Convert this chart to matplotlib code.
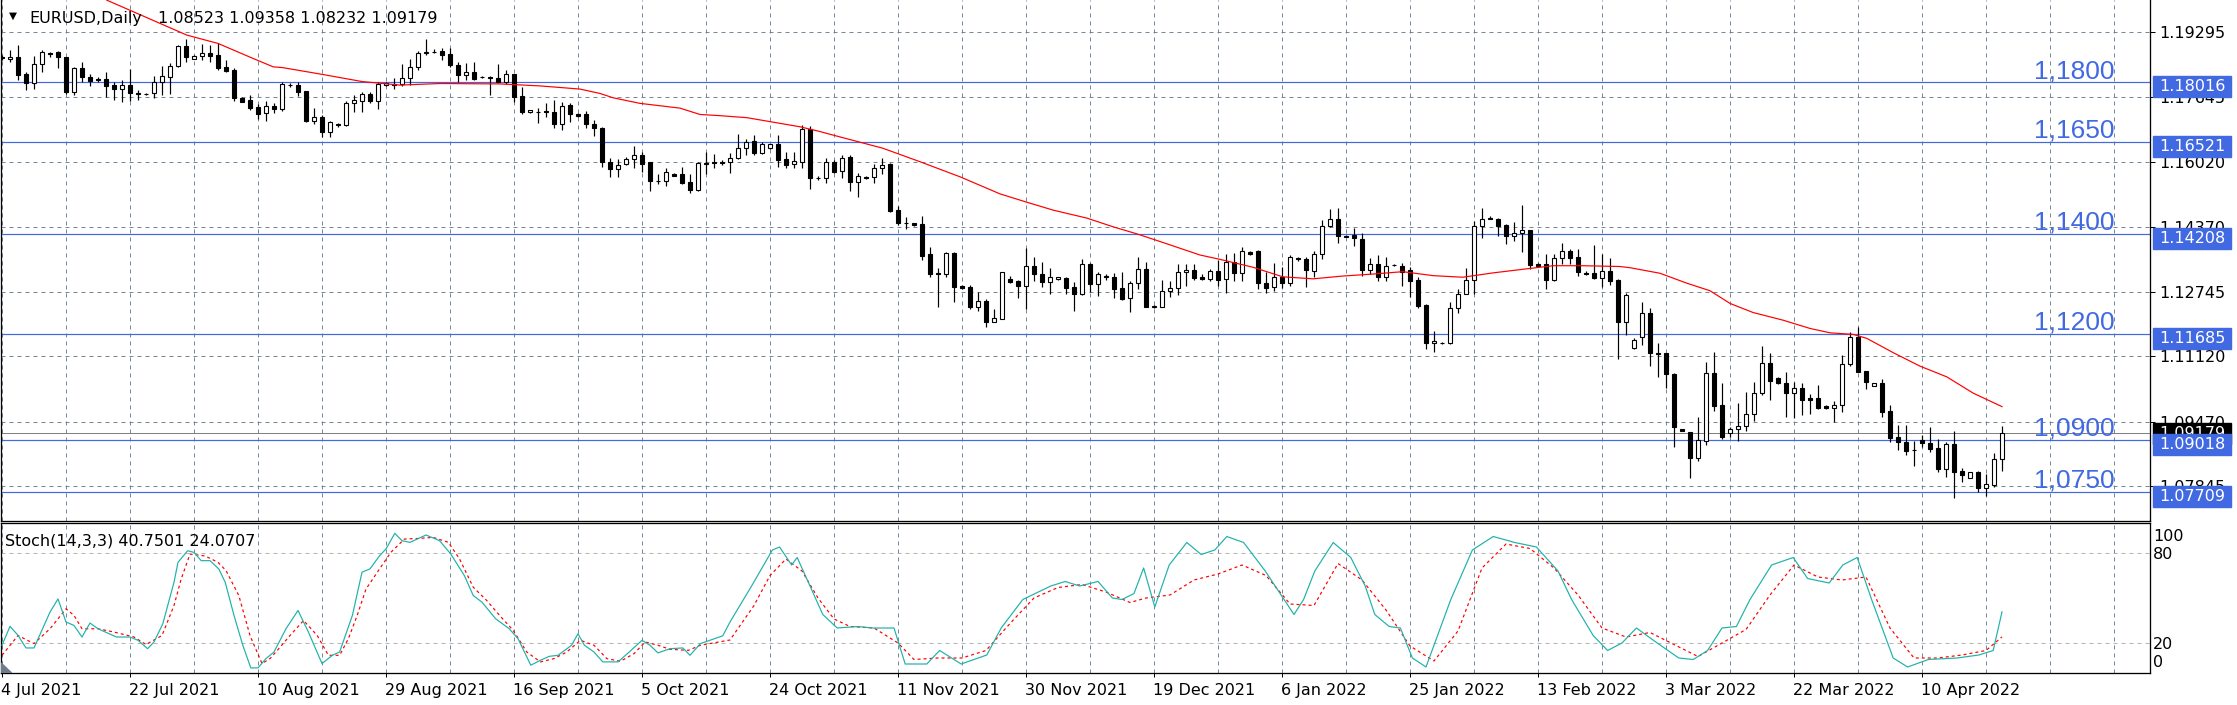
import matplotlib.pyplot as plt
from matplotlib.patches import Rectangle, Polygon
from matplotlib.transforms import blended_transform_factory

W, H, DPI = 2237, 705, 100

# ---- daily candles (bar 0 = 4 Jul 2021, Sunday bars included) ----
opens = [1.1865, 1.1860, 1.1865, 1.1822, 1.1800, 1.1848, 1.1876, 1.1878, 1.1865, 1.1778,
         1.1837, 1.1815, 1.1811, 1.1810, 1.1795, 1.1785, 1.1795, 1.1774, 1.1773, 1.1774,
         1.1802, 1.1816, 1.1843, 1.1894, 1.1862, 1.1869, 1.1875, 1.1871, 1.1840, 1.1833,
         1.1762, 1.1758, 1.1740, 1.1724, 1.1742, 1.1736, 1.1795, 1.1795, 1.1780, 1.1705,
         1.1715, 1.1678, 1.1695, 1.1695, 1.1751, 1.1756, 1.1773, 1.1756, 1.1795, 1.1798,
         1.1798, 1.1812, 1.1841, 1.1875, 1.1879, 1.1882, 1.1873, 1.1846, 1.1821, 1.1827,
         1.1815, 1.1815, 1.1812, 1.1802, 1.1823, 1.1768, 1.1726, 1.1728, 1.1731, 1.1726,
         1.1696, 1.1745, 1.1722, 1.1721, 1.1697, 1.1688, 1.1602, 1.1583, 1.1595, 1.1608,
         1.1619, 1.1601, 1.1553, 1.1553, 1.1571, 1.1571, 1.1550, 1.1531, 1.1598, 1.1602,
         1.1601, 1.1601, 1.1611, 1.1636, 1.1654, 1.1625, 1.1636, 1.1646, 1.1609, 1.1595,
         1.1602, 1.1684, 1.1562, 1.1562, 1.1602, 1.1579, 1.1613, 1.1552, 1.1564, 1.1564,
         1.1585, 1.1596, 1.1480, 1.1448, 1.1447, 1.1445, 1.1370, 1.1321, 1.1319, 1.1371,
         1.1289, 1.1286, 1.1237, 1.1251, 1.1199, 1.1206, 1.1306, 1.1302, 1.1290, 1.1339,
         1.1319, 1.1300, 1.1306, 1.1310, 1.1286, 1.1268, 1.1344, 1.1293, 1.1315, 1.1312,
         1.1283, 1.1258, 1.1296, 1.1331, 1.1237, 1.1237, 1.1277, 1.1283, 1.1323, 1.1329,
         1.1311, 1.1306, 1.1327, 1.1306, 1.1349, 1.1322, 1.1375, 1.1378, 1.1296, 1.1286,
         1.1311, 1.1296, 1.1359, 1.1356, 1.1327, 1.1369, 1.1441, 1.1457, 1.1416, 1.1417,
         1.1407, 1.1328, 1.1344, 1.1312, 1.1342, 1.1340, 1.1328, 1.1304, 1.1241, 1.1145,
         1.1145, 1.1145, 1.1233, 1.1270, 1.1304, 1.1440, 1.1461, 1.1458, 1.1443, 1.1416,
         1.1422, 1.1430, 1.1344, 1.1344, 1.1304, 1.1359, 1.1377, 1.1361, 1.1321, 1.1321,
         1.1308, 1.1327, 1.1304, 1.1197, 1.1133, 1.1160, 1.1220, 1.1119, 1.1119, 1.1066,
         1.0928, 1.0920, 1.0855, 1.0899, 1.1069, 1.0989, 1.0919, 1.0928, 1.0936, 1.0966,
         1.1019, 1.1094, 1.1058, 1.1044, 1.1020, 1.1031, 1.1006, 1.1006, 1.0987, 1.0981,
         1.0988, 1.1092, 1.1161, 1.1075, 1.1038, 1.1044, 1.0974, 1.0908, 1.0897, 1.0876,
         1.0901, 1.0894, 1.0880, 1.0827, 1.0890, 1.0824, 1.0805, 1.0820, 1.0781, 1.0788,
         1.08523]
highs = [1.1871, 1.1883, 1.1896, 1.1829, 1.1869, 1.1883, 1.1878, 1.1881, 1.1867, 1.1840,
         1.1853, 1.1822, 1.1815, 1.1827, 1.1804, 1.1808, 1.1835, 1.1783, 1.1775, 1.1818,
         1.1843, 1.1851, 1.1896, 1.1911, 1.1871, 1.1899, 1.1896, 1.1900, 1.1858, 1.1837,
         1.1765, 1.1770, 1.1747, 1.1755, 1.1749, 1.1804, 1.1800, 1.1802, 1.1781, 1.1738,
         1.1720, 1.1705, 1.1700, 1.1755, 1.1770, 1.1778, 1.1778, 1.1802, 1.1802, 1.1812,
         1.1848, 1.1860, 1.1881, 1.1910, 1.1885, 1.1888, 1.1888, 1.1854, 1.1850, 1.1854,
         1.1817, 1.1817, 1.1848, 1.1833, 1.1824, 1.1790, 1.1733, 1.1737, 1.1749, 1.1758,
         1.1753, 1.1749, 1.1725, 1.1730, 1.1707, 1.1689, 1.1611, 1.1609, 1.1614, 1.1642,
         1.1627, 1.1602, 1.1570, 1.1585, 1.1574, 1.1589, 1.1571, 1.1602, 1.1626, 1.1621,
         1.1606, 1.1623, 1.1672, 1.1659, 1.1669, 1.1652, 1.1647, 1.1669, 1.1626, 1.1626,
         1.1695, 1.1692, 1.1566, 1.1611, 1.1606, 1.1619, 1.1619, 1.1573, 1.1566, 1.1595,
         1.1611, 1.1599, 1.1490, 1.1462, 1.1448, 1.1465, 1.1388, 1.1334, 1.1375, 1.1375,
         1.1291, 1.1291, 1.1275, 1.1255, 1.1230, 1.1325, 1.1314, 1.1303, 1.1385, 1.1363,
         1.1349, 1.1335, 1.1312, 1.1312, 1.1298, 1.1356, 1.1346, 1.1323, 1.1319, 1.1322,
         1.1323, 1.1302, 1.1363, 1.1349, 1.1241, 1.1304, 1.1302, 1.1344, 1.1344, 1.1344,
         1.1319, 1.1331, 1.1354, 1.1370, 1.1371, 1.1386, 1.1378, 1.1380, 1.1325, 1.1346,
         1.1336, 1.1367, 1.1363, 1.1361, 1.1377, 1.1455, 1.1483, 1.1485, 1.1417, 1.1434,
         1.1422, 1.1359, 1.1367, 1.1361, 1.1344, 1.1346, 1.1337, 1.1312, 1.1243, 1.1176,
         1.1148, 1.1248, 1.1281, 1.1334, 1.1453, 1.1485, 1.1466, 1.1461, 1.1445, 1.1449,
         1.1493, 1.1431, 1.1346, 1.1370, 1.1370, 1.1396, 1.1381, 1.1381, 1.1327, 1.1392,
         1.1369, 1.1360, 1.1306, 1.1272, 1.1157, 1.1248, 1.1233, 1.1145, 1.1120, 1.1069,
         1.0929, 1.0921, 1.0960, 1.1097, 1.1122, 1.1044, 1.0934, 1.0995, 1.1021, 1.1046,
         1.1138, 1.1119, 1.1060, 1.1072, 1.1046, 1.1044, 1.1017, 1.1040, 1.0988, 1.0999,
         1.1115, 1.1172, 1.1186, 1.1076, 1.1044, 1.1054, 1.0989, 1.0939, 1.0939, 1.0899,
         1.0914, 1.0933, 1.0903, 1.0897, 1.0924, 1.0830, 1.0820, 1.0823, 1.0815, 1.0867,
         1.09358]
lows = [1.1858, 1.1853, 1.1808, 1.1783, 1.1785, 1.1827, 1.1867, 1.1837, 1.1773, 1.1770,
        1.1802, 1.1794, 1.1804, 1.1764, 1.1758, 1.1753, 1.1755, 1.1758, 1.1770, 1.1763,
        1.1770, 1.1773, 1.1841, 1.1854, 1.1861, 1.1858, 1.1853, 1.1833, 1.1829, 1.1755,
        1.1752, 1.1732, 1.1710, 1.1705, 1.1724, 1.1731, 1.1790, 1.1768, 1.1703, 1.1697,
        1.1665, 1.1665, 1.1690, 1.1693, 1.1727, 1.1727, 1.1751, 1.1736, 1.1793, 1.1784,
        1.1794, 1.1795, 1.1833, 1.1871, 1.1875, 1.1858, 1.1841, 1.1804, 1.1808, 1.1808,
        1.1813, 1.1770, 1.1801, 1.1797, 1.1752, 1.1722, 1.1725, 1.1700, 1.1715, 1.1686,
        1.1682, 1.1701, 1.1715, 1.1686, 1.1668, 1.1589, 1.1563, 1.1563, 1.1594, 1.1587,
        1.1577, 1.1528, 1.1547, 1.1541, 1.1566, 1.1547, 1.1524, 1.1529, 1.1571, 1.1585,
        1.1594, 1.1573, 1.1609, 1.1619, 1.1619, 1.1622, 1.1635, 1.1589, 1.1585, 1.1585,
        1.1586, 1.1533, 1.1556, 1.1548, 1.1573, 1.1562, 1.1529, 1.1514, 1.1558, 1.1549,
        1.1570, 1.1475, 1.1443, 1.1433, 1.1440, 1.1354, 1.1312, 1.1237, 1.1312, 1.1249,
        1.1281, 1.1230, 1.1226, 1.1186, 1.1198, 1.1205, 1.1297, 1.1258, 1.1231, 1.1302,
        1.1287, 1.1268, 1.1304, 1.1268, 1.1227, 1.1267, 1.1275, 1.1264, 1.1304, 1.1258,
        1.1254, 1.1223, 1.1281, 1.1237, 1.1233, 1.1236, 1.1260, 1.1266, 1.1290, 1.1304,
        1.1304, 1.1302, 1.1289, 1.1272, 1.1302, 1.1302, 1.1367, 1.1281, 1.1272, 1.1277,
        1.1283, 1.1289, 1.1353, 1.1286, 1.1312, 1.1356, 1.1437, 1.1398, 1.1412, 1.1390,
        1.1315, 1.1318, 1.1302, 1.1302, 1.1339, 1.1290, 1.1261, 1.1234, 1.1130, 1.1122,
        1.1142, 1.1143, 1.1220, 1.1268, 1.1269, 1.1411, 1.1457, 1.1415, 1.1395, 1.1403,
        1.1375, 1.1331, 1.1338, 1.1281, 1.1302, 1.1344, 1.1344, 1.1315, 1.1317, 1.1307,
        1.1287, 1.1292, 1.1104, 1.1165, 1.1130, 1.1140, 1.1088, 1.1059, 1.1033, 1.0884,
        1.0923, 1.0806, 1.0849, 1.0888, 1.0974, 1.0903, 1.0908, 1.0899, 1.0924, 1.0949,
        1.1014, 1.1002, 1.1042, 1.0958, 1.0957, 1.0964, 1.0966, 1.0979, 1.0980, 1.0946,
        1.0971, 1.1088, 1.1073, 1.1029, 1.1037, 1.0960, 1.0897, 1.0876, 1.0863, 1.0836,
        1.0884, 1.0871, 1.0821, 1.0809, 1.0756, 1.0796, 1.0804, 1.0769, 1.0760, 1.0783,
        1.08232]
closes = [1.1863, 1.1865, 1.1821, 1.1800, 1.1848, 1.1878, 1.1874, 1.1865, 1.1778, 1.1837,
          1.1815, 1.1806, 1.1808, 1.1794, 1.1785, 1.1795, 1.1774, 1.1773, 1.1773, 1.1802,
          1.1818, 1.1844, 1.1894, 1.1867, 1.1869, 1.1875, 1.1869, 1.1839, 1.1831, 1.1762,
          1.1753, 1.1738, 1.1722, 1.1742, 1.1736, 1.1797, 1.1795, 1.1778, 1.1705, 1.1714,
          1.1678, 1.1701, 1.1696, 1.1751, 1.1758, 1.1773, 1.1756, 1.1798, 1.1800, 1.1796,
          1.1812, 1.1841, 1.1875, 1.1879, 1.1878, 1.1871, 1.1846, 1.1821, 1.1827, 1.1810,
          1.1815, 1.1813, 1.1802, 1.1823, 1.1766, 1.1726, 1.1732, 1.1728, 1.1726, 1.1696,
          1.1743, 1.1721, 1.1717, 1.1696, 1.1686, 1.1601, 1.1583, 1.1594, 1.1608, 1.1619,
          1.1596, 1.1553, 1.1554, 1.1575, 1.1567, 1.1549, 1.1531, 1.1598, 1.1597, 1.1598,
          1.1600, 1.1611, 1.1636, 1.1652, 1.1625, 1.1646, 1.1646, 1.1606, 1.1594, 1.1604,
          1.1685, 1.1562, 1.1561, 1.1602, 1.1577, 1.1612, 1.1552, 1.1567, 1.1560, 1.1585,
          1.1594, 1.1478, 1.1448, 1.1447, 1.1443, 1.1365, 1.1319, 1.1319, 1.1371, 1.1287,
          1.1285, 1.1237, 1.1251, 1.1199, 1.1208, 1.1323, 1.1300, 1.1290, 1.1339, 1.1319,
          1.1300, 1.1311, 1.1311, 1.1285, 1.1268, 1.1344, 1.1293, 1.1318, 1.1311, 1.1281,
          1.1256, 1.1297, 1.1331, 1.1237, 1.1238, 1.1276, 1.1283, 1.1323, 1.1329, 1.1310,
          1.1307, 1.1327, 1.1304, 1.1349, 1.1322, 1.1377, 1.1370, 1.1296, 1.1285, 1.1311,
          1.1296, 1.1361, 1.1358, 1.1328, 1.1369, 1.1441, 1.1457, 1.1416, 1.1413, 1.1409,
          1.1328, 1.1344, 1.1312, 1.1340, 1.1342, 1.1325, 1.1302, 1.1239, 1.1145, 1.1150,
          1.1146, 1.1233, 1.1270, 1.1304, 1.1441, 1.1457, 1.1457, 1.1441, 1.1416, 1.1422,
          1.1430, 1.1342, 1.1340, 1.1304, 1.1359, 1.1377, 1.1360, 1.1325, 1.1318, 1.1308,
          1.1327, 1.1302, 1.1197, 1.1266, 1.1153, 1.1220, 1.1119, 1.1118, 1.1066, 1.0934,
          1.0924, 1.0855, 1.0901, 1.1069, 1.0987, 1.0909, 1.0928, 1.0936, 1.0966, 1.1019,
          1.1094, 1.1050, 1.1044, 1.1020, 1.1031, 1.1002, 1.1002, 1.0982, 1.0981, 1.0988,
          1.1092, 1.1160, 1.1073, 1.1048, 1.1044, 1.0972, 1.0907, 1.0895, 1.0874, 1.0875,
          1.0893, 1.0878, 1.0827, 1.0890, 1.0820, 1.0813, 1.0820, 1.0781, 1.0789, 1.0852,
          1.09179]

# moving average (bar position, price)
ma_bar = [13.1, 23.1, 27, 31.4, 33.9, 35.1, 39.75, 45, 49.75, 54.75, 62.25, 67.25, 72.25,
          74.75, 76.4, 79.75, 84.75, 87.25, 89.75, 93.1, 96, 99.75, 102.25, 103.9, 110.1,
          114.75, 119.75, 124.75, 128.1, 131.4, 135.6, 138.9, 141.9, 144.75, 149.75, 152.25,
          156.4, 160.1, 163.9, 167.6, 171.4, 175.1, 178.9, 182.6, 186.4, 190.1, 193.9, 197.6,
          202.25, 203.5, 207.25, 210.6, 213.5, 216, 218.9, 222.6, 226, 228.5, 231.4, 233.1,
          236.4, 239.75, 243.1, 246.4, 250]
ma_val = [1.2009, 1.1921, 1.1900, 1.1862, 1.1841, 1.1839, 1.1823, 1.1804, 1.1795, 1.1799,
          1.1798, 1.1793, 1.1785, 1.1774, 1.1763, 1.1749, 1.1737, 1.1721, 1.1718, 1.1713,
          1.1703, 1.1690, 1.1678, 1.1669, 1.1636, 1.1602, 1.1564, 1.1521, 1.1500, 1.1480,
          1.1460, 1.1438, 1.1420, 1.1401, 1.1367, 1.1356, 1.1336, 1.1312, 1.1307, 1.1314,
          1.1319, 1.1325, 1.1315, 1.1311, 1.1322, 1.1331, 1.1340, 1.1340, 1.1338, 1.1335,
          1.1321, 1.1296, 1.1277, 1.1245, 1.1222, 1.1203, 1.1182, 1.1171, 1.1167, 1.1157,
          1.1121, 1.1087, 1.1060, 1.1019, 1.0985]

# Stochastic(14,3,3): main line (%K) and signal (%D), read at bar positions
k_bar = [0, 1, 2, 3, 4, 6, 7, 8, 9, 10, 11, 12, 14.3, 16, 17, 18.2, 19, 20.1, 21.5, 22, 23.2,
         24, 24.9, 26, 27.1, 27.9, 29, 30.1, 31.1, 32, 33, 34, 35.5, 37, 38.3, 40, 41.3, 42.2,
         43.8, 45, 46, 47.2, 48, 49.1, 50, 51, 53, 54.7, 56.1, 57.8, 58.9, 60, 61.7, 63.4,
         64.5, 66.1, 67.3, 68.4, 69.5, 71.2, 72, 72.8, 74, 75.1, 77, 78.4, 80, 81, 82, 83.5,
         85.1, 86, 87.3, 90.1, 91, 93.7, 96.3, 97.2, 98.7, 99.4, 102.6, 104.4, 107, 108.8,
         111.5, 112.9, 115.6, 117.2, 119.9, 123.1, 124.9, 127.6, 131.1, 132.9, 134.7, 137,
         138.8, 140, 141.5, 142.7, 144.1, 145.9, 148.1, 149.9, 151.6, 153.1, 155.2, 157.9,
         161.5, 162.7, 164.1, 166.4, 168.6, 170.4, 171.6, 173.4, 174.8, 176.3, 178, 181.1,
         183.8, 186.4, 189.1, 191.8, 194.5, 196.2, 198.9, 200.7, 202.5, 204.3, 206.9, 209.6,
         211.4, 213.2, 215, 216.8, 218.5, 221.2, 223.9, 225.7, 228.4, 230.1, 231.9, 233.7,
         236.4, 238.2, 240.8, 244.4, 247.1, 248.9, 250]
k_val = [18.5, 31.1, 25.1, 16.7, 16.7, 40.6, 49.4, 34.0, 31.7, 24.0, 33.3, 29.5, 24.0, 24.0,
         21.8, 16.2, 20.7, 32.8, 60.5, 73.8, 81.5, 80.4, 74.9, 74.9, 69.4, 60.5, 38.4, 18.5,
         3.4, 3.4, 9.6, 14.0, 29.5, 41.7, 27.3, 6.3, 11.8, 14.0, 38.4, 67.2, 69.4, 78.2, 82.7,
         93.1, 88.2, 87.1, 92.0, 88.2, 79.3, 64.9, 51.7, 47.2, 36.2, 29.5, 22.9, 5.2, 8.5,
         11.1, 11.8, 18.5, 26.2, 18.5, 14.0, 7.4, 7.4, 14.0, 21.8, 18.5, 13.4, 16.2, 16.7,
         11.8, 19.6, 24.8, 34, 58, 82, 84, 72, 77, 39, 30, 31, 30, 30, 6, 6, 15, 6, 12, 30,
         49, 58, 61, 58, 61, 50, 49, 53, 70, 44, 72, 87, 79, 82, 91, 87, 68, 39, 49, 68, 87,
         77, 58, 39, 31, 30, 10, 4, 49, 82, 91, 87, 84, 68, 49, 25, 15, 20, 30, 20, 10, 9,
         15, 30, 31, 49, 72, 77, 63, 60, 72, 77, 49, 10, 4, 9, 10, 12, 15, 40.75]
d_bar = [0, 2, 4, 6, 8, 9, 10, 12, 14, 16.5, 18, 20, 21.5, 22.4, 23.5, 25.4, 27, 28, 29.6,
         31, 32.5, 33.5, 34.6, 36, 37.7, 39.4, 40.8, 42.2, 43.3, 44.4, 45.5, 47.2, 48.6,
         50.3, 52, 53.9, 55.8, 57.2, 58.9, 60.6, 62.2, 63.9, 65.6, 67.3, 69, 70.6, 72.3,
         74, 75.6, 77.3, 79, 80.4, 82, 83.5, 85.8, 87.3, 91, 94, 96, 98, 100, 102, 104, 106,
         109, 112, 114, 117, 120, 123, 126, 129, 132, 135, 138, 141, 143, 146, 149, 152, 155,
         158, 161, 164, 167, 170, 173, 176, 179, 182, 185, 188, 191, 194, 197, 200, 203, 206,
         209, 212, 215, 218, 221, 224, 227, 230, 233, 236, 239, 242, 245, 248, 250]
d_val = [11.8, 25.0, 19.6, 29.5, 42.8, 38.4, 29.5, 29.5, 27.3, 24.0, 19.0, 25.0, 45.0,
         62.7, 79.3, 78.0, 73.8, 68.3, 51.7, 25.0, 6.3, 9.6, 16.2, 25.0, 35.0, 25.0, 11.8,
         11.8, 22.9, 38.4, 56.0, 69.4, 80.4, 89.3, 89.7, 90.4, 87.1, 76.0, 57.2, 48.3, 38.4,
         28.4, 14.0, 7.4, 9.6, 14.0, 21.8, 18.5, 9.6, 7.8, 12.9, 20.7, 18.5, 15.8, 15.1, 18.5,
         22, 45, 65, 76, 68, 50, 36, 31, 30, 20, 9, 10, 10, 15, 33, 50, 57, 59, 54, 47, 50,
         52, 62, 66, 72, 65, 46, 45, 73, 62, 42, 18, 8, 28, 70, 86, 83, 70, 52, 30, 24, 27,
         19, 11, 20, 29, 52, 72, 64, 62, 64, 30, 10, 10, 12, 15, 24.07]

price_ticks = [1.19295, 1.17645, 1.16020, 1.14370, 1.12745, 1.11120, 1.09470, 1.07845]
level_prices = [1.18016, 1.16521, 1.14208, 1.11685, 1.09018, 1.07709]
level_names = ['1,1800', '1,1650', '1,1400', '1,1200', '1,0900', '1,0750']
bid = 1.09179
date_labels = ['4 Jul 2021', '22 Jul 2021', '10 Aug 2021', '29 Aug 2021', '16 Sep 2021',
               '5 Oct 2021', '24 Oct 2021', '11 Nov 2021', '30 Nov 2021', '19 Dec 2021',
               '6 Jan 2022', '25 Jan 2022', '13 Feb 2022', '3 Mar 2022', '22 Mar 2022',
               '10 Apr 2022']

plt.rcParams['font.family'] = ['DejaVu Sans']
GRID = '#778899'
BLUE = '#4169e1'
FS = 11.5
PX = 0.72  # one pixel in points

fig = plt.figure(figsize=(W / DPI, H / DPI), dpi=DPI)
ax = fig.add_axes([1 / W, 1 - 521 / H, 2149 / W, 521 / H])
ax2 = fig.add_axes([1 / W, 1 - 673 / H, 2149 / W, 150 / H])

n = len(closes)
idx = list(range(n))
xlim = (-0.125, 268.5)

# ---------- main panel ----------
ax.set_xlim(*xlim)
ax.set_ylim(1.06969, 1.20094)
for b in range(0, 265, 8):
    ax.axvline(b, color=GRID, lw=PX, ls=(0, (4, 4)), zorder=0)
    ax2.axvline(b, color=GRID, lw=PX, ls=(0, (4, 4)), zorder=0)
for p in price_ticks:
    ax.axhline(p, color=GRID, lw=PX, ls=(0, (4, 4)), zorder=0)

for p in level_prices:
    ax.axhline(p, color=BLUE, lw=1.2 * PX, zorder=1)
ax.axhline(bid, color='#808080', lw=PX, zorder=1)

ax.vlines(idx, lows, highs, color='black', lw=1.2 * PX, zorder=2)
bottoms = [min(o, c) for o, c in zip(opens, closes)]
heights = [max(abs(c - o), 0.00002) for o, c in zip(opens, closes)]
faces = ['white' if c > o else 'black' for o, c in zip(opens, closes)]
ax.bar(idx, heights, bottom=bottoms, width=0.55, color=faces, edgecolor='black',
       linewidth=1.1 * PX, zorder=3)

ax.plot(ma_bar, ma_val, color='red', lw=1.2 * PX, zorder=4)

for p, name in zip(level_prices, level_names):
    ax.text(264.1, p + 4 * 0.00025192, name, ha='right', va='baseline', color=BLUE,
            fontsize=19, family='Liberation Sans', zorder=4)

ax.yaxis.tick_right()
ax.set_yticks(price_ticks)
ax.set_yticklabels([f'{p:.5f}' for p in price_ticks])
ax.tick_params(axis='y', length=5 * PX, width=PX, pad=4 * PX, labelsize=FS, colors='black')
ax.set_xticks([])
for s in ['left', 'right', 'bottom']:
    ax.spines[s].set_linewidth(PX * 1.3)
ax.spines['top'].set_visible(False)

# price boxes on the right scale
tr = blended_transform_factory(ax.transAxes, ax.transData)
ppx = 0.00025192
bx0 = (2152.5 - 1) / 2149
bw = 78 / 2149
tx = (2159 - 1) / 2149
ax.add_patch(Rectangle((bx0, bid - 10.5 * ppx), bw, 21 * ppx, transform=tr, color='black',
                       clip_on=False, zorder=5))
ax.text(tx, bid, f'{bid:.5f}', transform=tr, color='white', fontsize=FS, va='center',
        clip_on=False, zorder=6)
for p in level_prices:
    ax.add_patch(Rectangle((bx0, p - 15 * ppx), bw, 21 * ppx, transform=tr, color=BLUE,
                           clip_on=False, zorder=7))
    ax.text(tx, p - 4.5 * ppx, f'{p:.5f}', transform=tr, color='white', fontsize=FS,
            va='center', clip_on=False, zorder=8)

# ---------- stochastic panel ----------
ax2.set_xlim(*xlim)
ax2.set_ylim(0, 100)
for lv in (20, 80):
    ax2.axhline(lv, color='#b4b4b4', lw=PX, ls=(0, (4, 4)), zorder=0)
ax2.plot(k_bar, k_val, color='#20b2aa', lw=1.2 * PX, zorder=3)
ax2.plot(d_bar, d_val, color='red', lw=1.2 * PX, ls=(0, (2.5, 2.5)), zorder=2)
ax2.set_yticks([])
ax2.set_xticks(range(0, 241, 16))
ax2.set_xticklabels([])
ax2.tick_params(axis='x', length=4 * PX, width=PX)
for s in ax2.spines.values():
    s.set_linewidth(PX * 1.3)

tr2 = blended_transform_factory(ax2.transAxes, ax2.transData)
for lab, v in [('100', 90.7), ('80', 79.3), ('20', 18.7), ('0', 7.0)]:
    ax2.text((2153 - 1) / 2149, v, lab, transform=tr2, fontsize=FS, va='center',
             clip_on=False)
ax2.add_patch(Polygon([(-0.125, 0), (-0.125, 6.7), (1.2, 0)], closed=True,
                      color='#6e7b8b', zorder=5))

# date labels below the stochastic panel
trd = blended_transform_factory(ax2.transData, fig.transFigure)
for k, lab in enumerate(date_labels):
    ax2.text(16 * k - 0.1, 1 - 695 / H, lab, transform=trd, fontsize=FS, ha='left',
             va='baseline', clip_on=False)

# headers
fig.text(12.5 / W, 1 - 15.5 / H, '\u25bc', fontsize=7.5, ha='center', va='center')
fig.text(29 / W, 1 - 23 / H, 'EURUSD,Daily', fontsize=FS, va='baseline')
fig.text(158 / W, 1 - 23 / H, f'{opens[-1]:.5f} {highs[-1]:.5f} {lows[-1]:.5f} {closes[-1]:.5f}',
         fontsize=FS, va='baseline')
fig.text(5 / W, 1 - 545.5 / H, 'Stoch(14,3,3) 40.7501 24.0707', fontsize=FS, va='baseline')

fig.savefig('out.png', dpi=DPI, facecolor='white')
